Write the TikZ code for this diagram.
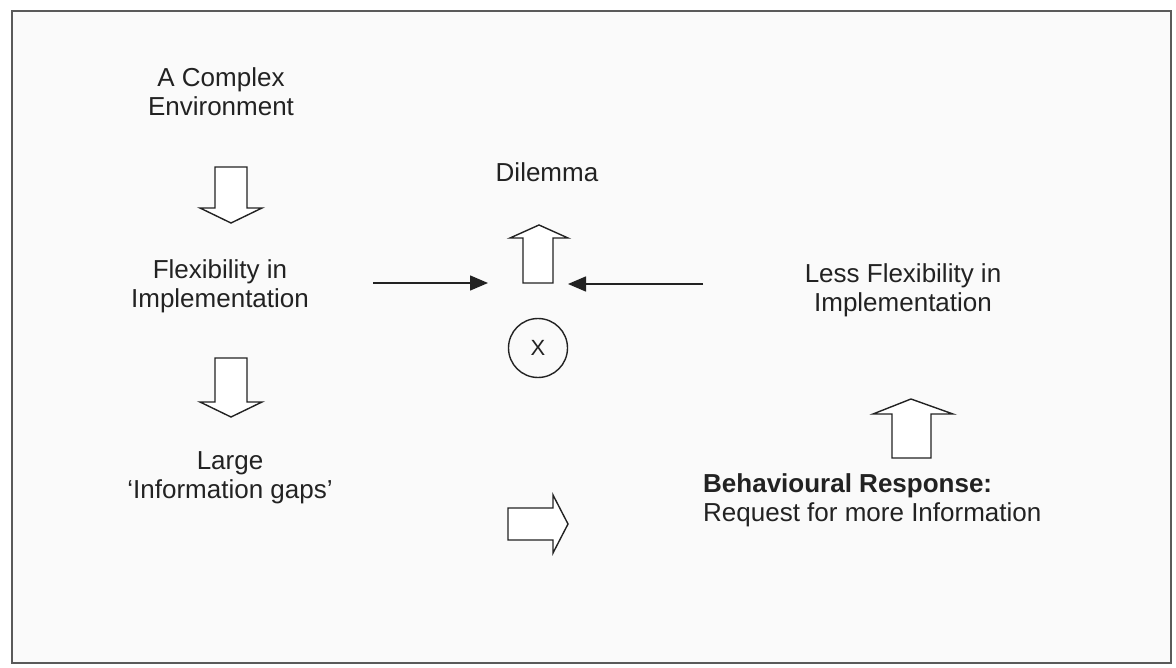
\documentclass[tikz,border=0pt]{standalone}
\usepackage{fontspec}
\setmainfont{Liberation Sans}
\usetikzlibrary{arrows.meta}

\definecolor{inkc}{HTML}{222222}
\definecolor{framec}{HTML}{5A5A5A}
\definecolor{paperc}{HTML}{FAFAFA}

\tikzset{
  lbl/.style={inner sep=0pt, align=center, text=inkc,
    font=\fontsize{26pt}{29pt}\selectfont},
  blockarrow/.style={draw=inkc, line width=1.4pt, line join=miter, fill=white},
  pointer/.style={draw=inkc, line width=1.4pt,
    -{Triangle[length=18pt,width=15pt]}},
  ring/.style={circle, draw=inkc, line width=1.4pt, minimum size=59pt,
    inner sep=0pt, text=inkc, font=\fontsize{22pt}{24pt}\selectfont}
}

\begin{document}
\begin{tikzpicture}[x=1pt,y=-1pt]
  % page and frame
  \useasboundingbox (0,0) rectangle (1176,668);
  \fill[white] (0,0) rectangle (1176,668);
  \draw[framec, line width=2pt, fill=paperc] (12,11) rectangle (1171,663);

  % left column texts
  \node[lbl] (env) at (221,92) {A Complex\\Environment};
  \node[lbl] (flex) at (220,286) {Flexibility in\\Implementation};
  \node[lbl] (gaps) at (230,478) {Large\\`Information gaps'};

  % centre
  \node[lbl] (dil) at (547,172) {Dilemma};
  \node[ring] (cross) at (538,348) {X};

  % right column texts
  \node[lbl] (less) at (903,290) {Less Flexibility in\\Implementation};
  \node[lbl, anchor=west, align=left] (resp) at (703,500)
    {\textbf{Behavioural Response:}\\Request for more Information};

  % block arrows pointing down (left column)
  \draw[blockarrow] (215,167) -- (247,167) -- (247,208) -- (262,208)
    -- (231,223) -- (200,208) -- (215,208) -- cycle;
  \draw[blockarrow] (215,358) -- (247,358) -- (247,402) -- (262,402)
    -- (231,417) -- (200,402) -- (215,402) -- cycle;

  % block arrow pointing up to the dilemma
  \draw[blockarrow] (523,283) -- (553,283) -- (553,238) -- (568,238)
    -- (539,225) -- (510,238) -- (523,238) -- cycle;

  % block arrow pointing up to the right column
  \draw[blockarrow] (892,458) -- (931,458) -- (931,414) -- (953,414)
    -- (911,399) -- (873,414) -- (892,414) -- cycle;

  % block arrow pointing right, towards the response
  \draw[blockarrow] (508,508) -- (553,508) -- (553,495) -- (568,524)
    -- (553,553) -- (553,540) -- (508,540) -- cycle;

  % converging pointers
  \coordinate (lfrom) at (373,283);
  \coordinate (lto) at (488,283);
  \coordinate (rfrom) at (703,284);
  \coordinate (rto) at (568,284);
  \draw[pointer] (lfrom) -- (lto);
  \draw[pointer] (rfrom) -- (rto);
\end{tikzpicture}
\end{document}
